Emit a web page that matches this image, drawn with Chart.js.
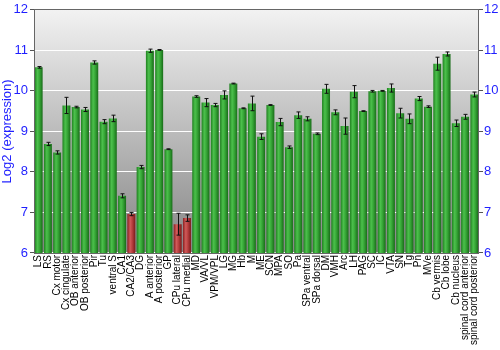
<!DOCTYPE html>
<html><head><meta charset="utf-8">
<script src="https://cdn.jsdelivr.net/npm/chart.js@4"></script>
<style>html,body{margin:0;padding:0;background:#fff}#wrap{width:500px;height:350px}</style>
</head><body><div id="wrap"><canvas id="c"></canvas></div>
<script>
const categories = ["LS","RS","Cx motor","Cx cingulate","OB anterior","OB posterior","Pir","Tu","ventral S","CA1","CA2/CA3","DG","A anterior","A posterior","GP","CPu lateral","CPu medial","MD","VA/VL","VPM/VPL","LG","MG","Hb","M","ME","SCN","MPA","SO","Pa","SPa ventral","SPa dorsal","DM","VMH","Arc","LH","PAG","SC","IC","VTA","SN","Tg","Pn","MVe","Cb vermis","Cb lobe","Cb nucleus","spinal cord anterior","spinal cord posterior"];
const expression = [10.58,8.69,8.48,9.64,9.60,9.54,10.70,9.24,9.32,7.41,6.96,8.12,10.99,11.01,8.56,6.71,6.86,9.86,9.71,9.65,9.90,10.18,9.57,9.69,8.87,9.65,9.23,8.61,9.40,9.31,8.94,10.05,9.47,9.13,9.98,9.50,9.99,10.00,10.07,9.45,9.31,9.81,9.61,10.67,10.91,9.20,9.36,9.91];
const errors = [0.02,0.04,0.04,0.2,0.02,0.05,0.04,0.05,0.08,0.05,0.04,0.04,0.04,0.01,0.01,0.27,0.08,0.02,0.1,0.04,0.1,0.01,0.01,0.18,0.07,0.01,0.09,0.03,0.08,0.05,0.02,0.11,0.06,0.2,0.15,0.01,0.02,0.01,0.1,0.12,0.12,0.05,0.02,0.16,0.05,0.08,0.06,0.06];
const lowFlag = [0,0,0,0,0,0,0,0,0,0,1,0,0,0,0,1,1,0,0,0,0,0,0,0,0,0,0,0,0,0,0,0,0,0,0,0,0,0,0,0,0,0,0,0,0,0,0,0];
const yTicks = [6,7,8,9,10,11,12];

const BLUE = '#1f1fff';
function barFill(ctx){
  const chart = ctx.chart;
  const red = lowFlag[ctx.dataIndex] === 1;
  const solid = red ? '#b83a3a' : '#2f9f2f';
  if (!chart.chartArea || !chart.scales.x) return solid;
  const xs = chart.scales.x;
  const cx = xs.getPixelForValue(ctx.dataIndex);
  const w = (xs.width / categories.length) * 0.86;
  const g = chart.ctx.createLinearGradient(cx - w/2, 0, cx + w/2, 0);
  if (red){
    g.addColorStop(0,'#8a2020'); g.addColorStop(0.35,'#d05a5a'); g.addColorStop(0.6,'#b84040'); g.addColorStop(1,'#7a1a1a');
  } else {
    g.addColorStop(0,'#1f801f'); g.addColorStop(0.35,'#4cc04c'); g.addColorStop(0.6,'#38a838'); g.addColorStop(1,'#186c18');
  }
  return g;
}

const bgPlugin = {
  id:'bg',
  beforeDraw(chart){
    const {ctx, chartArea:a} = chart;
    const g = ctx.createLinearGradient(0,a.top,0,a.bottom);
    g.addColorStop(0,'#f2f2f2'); g.addColorStop(1,'#858585');
    ctx.save(); ctx.fillStyle = g; ctx.fillRect(a.left,a.top,a.right-a.left,a.bottom-a.top); ctx.restore();
  },
  afterDraw(chart){
    const {ctx, chartArea:a} = chart;
    ctx.save(); ctx.strokeStyle='#666'; ctx.lineWidth=1;
    ctx.strokeRect(Math.round(a.left)+0.5, Math.round(a.top)-0.5, Math.round(a.right-a.left)-1, Math.round(a.bottom-a.top)+1);
    ctx.restore();
  }
};
const errPlugin = {
  id:'err',
  afterDatasetsDraw(chart){
    const ctx = chart.ctx, y = chart.scales.y, meta = chart.getDatasetMeta(0);
    ctx.save(); ctx.strokeStyle='#111'; ctx.lineWidth=1;
    meta.data.forEach((bar,i)=>{
      const x = Math.round(bar.x)+0.5;
      const t = y.getPixelForValue(expression[i]+errors[i]);
      const b = y.getPixelForValue(expression[i]-errors[i]);
      ctx.beginPath();
      ctx.moveTo(x,t); ctx.lineTo(x,b);
      ctx.moveTo(x-2,t); ctx.lineTo(x+2,t);
      ctx.moveTo(x-2,b); ctx.lineTo(x+2,b);
      ctx.stroke();
    });
    ctx.restore();
  }
};

new Chart(document.getElementById('c'), {
  type:'bar',
  data:{labels:categories, datasets:[{data:expression, backgroundColor:barFill, borderWidth:0, barPercentage:0.86, categoryPercentage:1.0}]},
  options:{
    responsive:true, maintainAspectRatio:false, animation:false,
    layout:{padding:{top:9,right:0,bottom:3,left:0}},
    plugins:{legend:{display:false}, tooltip:{enabled:false}},
    scales:{
      x:{
        grid:{display:false, drawTicks:false},
        border:{display:false},
        ticks:{autoSkip:false, maxRotation:90, minRotation:90, padding:2, color:'#000', font:{family:'Liberation Sans, Arial', size:10}}
      },
      y:{
        position:'left', min:6, max:12, afterBuildTicks(s){ s.ticks = yTicks.map(v=>({value:v})); },
        afterFit(s){ s.width = 34; },
        grid:{color:'#ffffff', lineWidth:1, tickLength:4, tickColor:'#555'},
        border:{display:false},
        ticks:{color:BLUE, padding:2, font:{family:'Liberation Sans, Arial', size:13}},
        title:{display:true, text:'Log2 (expression)', color:BLUE, padding:{top:0,bottom:0}, font:{family:'Liberation Sans, Arial', size:13}}
      },
      y2:{
        position:'right', min:6, max:12, afterBuildTicks(s){ s.ticks = yTicks.map(v=>({value:v})); },
        afterFit(s){ s.width = 21; },
        grid:{drawOnChartArea:false, tickLength:4, tickColor:'#555'},
        border:{display:false},
        ticks:{color:BLUE, padding:1, font:{family:'Liberation Sans, Arial', size:13}}
      }
    }
  },
  plugins:[bgPlugin, errPlugin]
});
</script></body></html>
